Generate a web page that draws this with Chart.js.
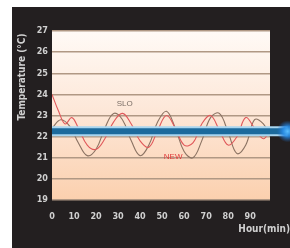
<!DOCTYPE html>
<html>
<head>
<meta charset="utf-8">
<script src="https://cdn.jsdelivr.net/npm/chart.js@4.4.0/dist/chart.umd.min.js"></script>
<style>
  html, body { margin: 0; padding: 0; background: #fff; }
  #wrap { width: 290px; height: 248px; position: relative; }
</style>
</head>
<body>
<div id="wrap"><canvas id="c" width="290" height="248"></canvas></div>
<script>
// minutes along the x axis
var newMinutes = [0, 3, 6, 9, 12, 16, 20, 24, 28, 32, 36, 40, 44, 48, 52, 56, 60, 64, 68, 72, 76, 80, 84, 88, 92, 96, 99];
var newTemps   = [24.0, 23.2, 22.6, 22.9, 22.4, 21.6, 21.4, 21.9, 22.7, 23.1, 22.6, 21.8, 21.5, 22.3, 23.0, 22.4, 21.6, 21.7, 22.6, 23.0, 22.3, 21.6, 22.0, 22.9, 22.4, 21.9, 22.3];

var sloMinutes = [0, 4, 8, 12, 16, 20, 24, 28, 32, 36, 40, 44, 48, 52, 56, 60, 64, 68, 72, 76, 80, 84, 88, 92, 96, 99];
var sloTemps   = [22.4, 22.8, 22.5, 21.7, 21.1, 21.4, 22.4, 23.1, 22.8, 21.8, 21.1, 21.6, 22.7, 23.2, 22.4, 21.3, 21.0, 21.8, 22.9, 23.1, 22.2, 21.2, 21.6, 22.8, 22.6, 22.0];

var setMinutes = [0, 107];
var setTemps   = [22.25, 22.25];

var xTicks = [0, 10, 20, 30, 40, 50, 60, 70, 80, 90];
var yTicks = [19, 20, 21, 22, 23, 24, 25, 26, 27];

function pts(xs, ys) {
  return xs.map(function (x, i) { return { x: x, y: ys[i] }; });
}

var tickFont = { size: 9, weight: 'bold', family: '"Liberation Sans Narrow", "DejaVu Sans Condensed", sans-serif' };

var frame = {
  id: 'frame',
  beforeDraw: function (chart) {
    var ctx = chart.ctx, a = chart.chartArea;
    ctx.save();
    ctx.fillStyle = '#ffffff';
    ctx.fillRect(0, 0, chart.width, chart.height);
    ctx.fillStyle = '#231f20';
    ctx.fillRect(12, 7, chart.width - 12, chart.height - 7);
    var g = ctx.createLinearGradient(0, a.top, 0, a.bottom);
    g.addColorStop(0, '#fffaf6');
    g.addColorStop(0.5, '#fde6d6');
    g.addColorStop(1, '#fbd0ae');
    ctx.fillStyle = g;
    ctx.fillRect(a.left, a.top, a.right - a.left, a.bottom - a.top);
    ctx.restore();
  },
  afterDraw: function (chart) {
    var ctx = chart.ctx, xs = chart.scales.x, ys = chart.scales.y;
    ctx.save();
    // axis titles
    ctx.fillStyle = '#d0d0d0';
    ctx.font = 'bold 10px "Liberation Sans Narrow", "DejaVu Sans Condensed", sans-serif';
    ctx.translate(22, 77);
    ctx.rotate(-Math.PI / 2);
    ctx.textAlign = 'center';
    ctx.textBaseline = 'middle';
    ctx.fillText('Temperature (°C)', 0, 0);
    ctx.setTransform(1, 0, 0, 1, 0, 0);
    ctx.textAlign = 'right';
    ctx.fillText('Hour(min)', 290, 229);
    // series labels
    ctx.textAlign = 'center';
    ctx.font = '8px "Liberation Sans", sans-serif';
    ctx.fillStyle = '#7a6e66';
    ctx.fillText('SLO', xs.getPixelForValue(33), ys.getPixelForValue(23.55));
    ctx.fillStyle = '#e03a3a';
    ctx.fillText('NEW', xs.getPixelForValue(55), ys.getPixelForValue(21.05));
    // blue glow at the end of the set line
    var px = xs.getPixelForValue(setMinutes[1]), py = ys.getPixelForValue(setTemps[1]);
    var rg = ctx.createRadialGradient(px, py, 0, px, py, 11);
    rg.addColorStop(0, 'rgba(90,190,255,1)');
    rg.addColorStop(0.45, 'rgba(40,140,230,0.9)');
    rg.addColorStop(1, 'rgba(30,110,200,0)');
    ctx.fillStyle = rg;
    ctx.beginPath();
    ctx.arc(px, py, 11, 0, Math.PI * 2);
    ctx.fill();
    ctx.restore();
  }
};

new Chart(document.getElementById('c'), {
  type: 'line',
  data: {
    datasets: [{
      label: 'SLO',
      data: pts(sloMinutes, sloTemps),
      borderColor: '#8a7262',
      borderWidth: 1.1,
      pointRadius: 0,
      tension: 0.4,
      order: 3
    }, {
      label: 'NEW',
      data: pts(newMinutes, newTemps),
      borderColor: '#e0585a',
      borderWidth: 1.1,
      pointRadius: 0,
      tension: 0.4,
      order: 2
    }, {
      label: 'set glow',
      data: pts(setMinutes, setTemps),
      borderColor: '#a9d6f0',
      borderWidth: 10,
      pointRadius: 0,
      clip: false,
      order: 1
    }, {
      label: 'set',
      data: pts(setMinutes, setTemps),
      borderColor: '#1c6a9c',
      borderWidth: 6,
      pointRadius: 0,
      clip: false,
      order: 0
    }]
  },
  options: {
    responsive: false,
    animation: false,
    layout: { padding: { left: 0, top: 31, right: 20, bottom: 0 } },
    plugins: { legend: { display: false }, tooltip: { enabled: false } },
    scales: {
      x: {
        type: 'linear',
        min: 0,
        max: 99,
        afterFit: function (s) { s.height = 48; },
        afterBuildTicks: function (s) { s.ticks = xTicks.map(function (v) { return { value: v }; }); },
        grid: { display: false },
        border: { display: false },
        ticks: { color: '#d0d0d0', padding: 3, maxRotation: 0, autoSkip: false, font: tickFont }
      },
      y: {
        min: 19,
        max: 27,
        afterFit: function (s) { s.width = 52; },
        afterBuildTicks: function (s) { s.ticks = yTicks.map(function (v) { return { value: v }; }); },
        grid: { color: '#b09884', lineWidth: 1.5, drawTicks: false },
        border: { display: false },
        ticks: { color: '#d0d0d0', padding: 4, font: tickFont }
      }
    }
  },
  plugins: [frame]
});
</script>
</body>
</html>
